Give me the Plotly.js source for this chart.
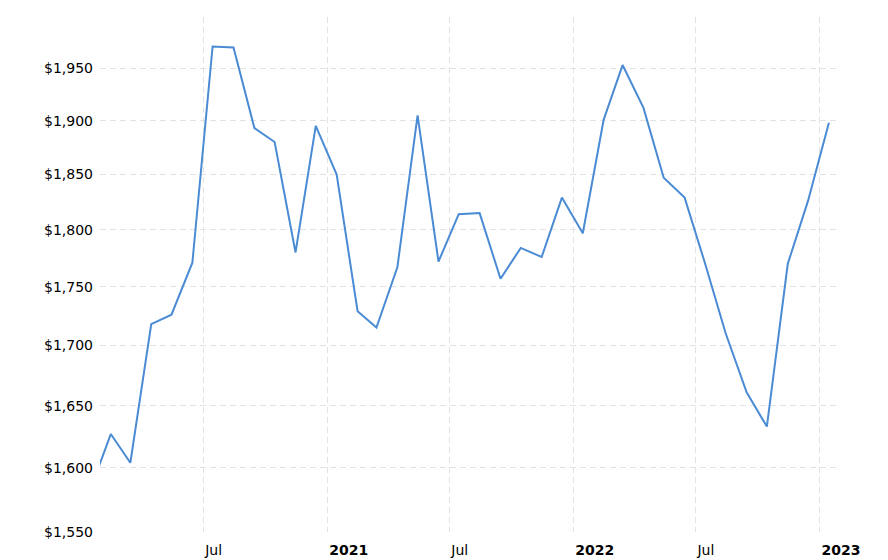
<!DOCTYPE html>
<html>
<head>
<meta charset="utf-8">
<script src="https://cdn.plot.ly/plotly-3.0.1.min.js"></script>
<style>
  html, body { margin: 0; padding: 0; background: #fff; }
  #chart { width: 888px; height: 560px; }
</style>
</head>
<body>
<div id="chart"></div>
<script>
// Monthly gold price (USD/oz), Jan 2020 – Jan 2023
const dates = [
  '2020-01-15','2020-02-15','2020-03-15','2020-04-15','2020-05-15','2020-06-15',
  '2020-07-15','2020-08-15','2020-09-15','2020-10-15','2020-11-15','2020-12-15',
  '2021-01-15','2021-02-15','2021-03-15','2021-04-15','2021-05-15','2021-06-15',
  '2021-07-15','2021-08-15','2021-09-15','2021-10-15','2021-11-15','2021-12-15',
  '2022-01-15','2022-02-15','2022-03-15','2022-04-15','2022-05-15','2022-06-15',
  '2022-07-15','2022-08-15','2022-09-15','2022-10-15','2022-11-15','2022-12-15',
  '2023-01-15'
];
const prices = [
  1582, 1627, 1604, 1718, 1726, 1771, 1971, 1970, 1893, 1880, 1780, 1895,
  1850, 1729, 1715, 1767, 1905, 1772, 1814, 1815, 1757, 1784, 1776, 1829,
  1797, 1901, 1953, 1912, 1847, 1829, 1771, 1710, 1661, 1633, 1770, 1826,
  1898
];
const yTickVals = [1550, 1600, 1650, 1700, 1750, 1800, 1850, 1900, 1950];
const yTickText = yTickVals.map(v => '$' + v.toLocaleString('en-US'));
const xTickVals = ['2020-07-01','2021-01-01','2021-07-01','2022-01-01','2022-07-01','2023-01-01'];
const xTickText = ['Jul','<b>2021</b>','Jul','<b>2022</b>','Jul','<b>2023</b>'];

const trace = {
  x: dates,
  y: prices,
  type: 'scatter',
  mode: 'lines',
  line: { color: '#4a8bd4', width: 2 },
  hoverinfo: 'skip'
};

const layout = {
  width: 888,
  height: 560,
  margin: { l: 100, r: 51, t: 17, b: 28 },
  paper_bgcolor: '#ffffff',
  plot_bgcolor: '#ffffff',
  showlegend: false,
  font: { family: 'DejaVu Sans, Verdana, sans-serif', size: 14, color: '#000' },
  xaxis: {
    type: 'date',
    range: ['2020-01-30', '2023-01-27'],
    tickmode: 'array',
    tickvals: xTickVals,
    ticktext: xTickText,
    ticklabelposition: 'outside right',
    ticks: '',
    showgrid: true,
    gridcolor: '#e2e2e2',
    griddash: '6px,4px',
    gridwidth: 1,
    showline: false,
    zeroline: false,
    ticklabelstandoff: 8,
    ticklabelshift: 2,
    tickfont: { size: 14, color: '#000' }
  },
  yaxis: {
    type: 'log',
    range: [Math.log10(1550), Math.log10(2000)],
    tickmode: 'array',
    tickvals: yTickVals,
    ticktext: yTickText,
    ticks: '',
    showgrid: true,
    gridcolor: '#e2e2e2',
    griddash: '6px,4px',
    gridwidth: 1,
    showline: false,
    zeroline: false,
    ticklabelstandoff: 6,
    tickfont: { size: 14, color: '#000' }
  }
};

Plotly.newPlot('chart', [trace], layout, { displayModeBar: false, staticPlot: true });
</script>
</body>
</html>
